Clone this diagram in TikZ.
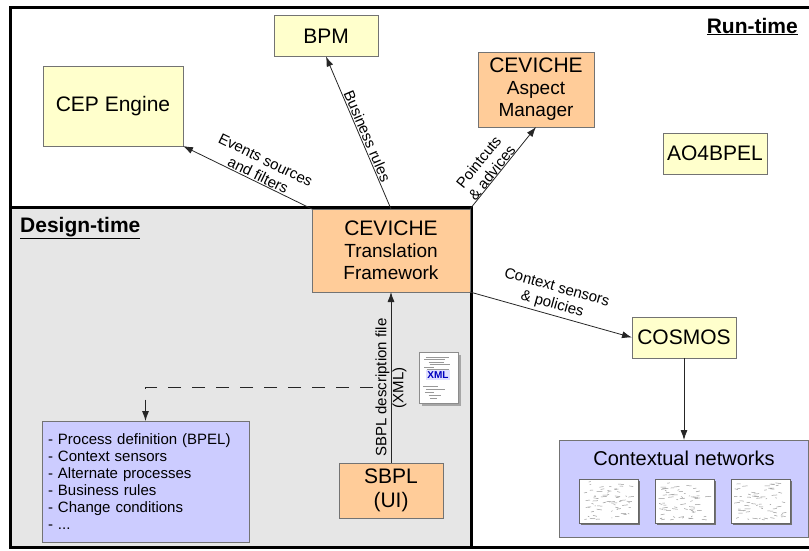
\documentclass[tikz,border=0pt]{standalone}
\usepackage{fontspec}
\setmainfont{Liberation Sans}
\usepackage{tkz-graph}
\usetikzlibrary{arrows.meta}

\definecolor{runfill}{HTML}{FFFFCC}
\definecolor{cevfill}{HTML}{FFCC99}
\definecolor{infofill}{HTML}{CCCCFF}
\definecolor{designfill}{HTML}{E6E6E6}
\newcommand\bigtxt{\fontsize{21}{22}\selectfont}
\newcommand\midtxt{\fontsize{19}{22}\selectfont}
\newcommand\smalltxt{\fontsize{15}{17}\selectfont}

\begin{document}
\begin{tikzpicture}[x=1pt,y=-1pt]
\useasboundingbox (0,0) rectangle (809,550);
% run-time and design-time areas
\draw[line width=3pt] (10,7) rectangle (816,547);
\draw[line width=3pt,fill=designfill] (10,207) rectangle (471,547);
\node[anchor=base west,font=\bigtxt\bfseries,inner sep=0pt] (designtime) at (20,232) {\underline{Design-time}};
\node[anchor=base east,font=\bigtxt\bfseries,inner sep=0pt] (runtime) at (798,33) {\underline{Run-time}};
\GraphInit[vstyle=Empty]
\tikzset{VertexStyle/.style={draw=black!55,fill=runfill,font=\bigtxt,align=center,
  inner sep=0pt,minimum width=104pt,minimum height=41pt}}
\Vertex[x=326,y=36,L=BPM]{BPM}
\Vertex[x=715,y=153.5,L=AO4BPEL]{AO4BPEL}
\Vertex[x=684,y=337.5,L=COSMOS]{COSMOS}
\tikzset{VertexStyle/.style={draw=black!55,fill=runfill,font=\bigtxt,align=center,
  inner sep=0pt,minimum width=140pt,minimum height=80pt}}
\Vertex[x=113,y=106,L={CEP Engine}]{CEP}
\tikzset{VertexStyle/.style={draw=black!55,fill=cevfill,font=\bigtxt,align=center,
  inner sep=0pt,minimum width=158pt,minimum height=83pt}}
\Vertex[x=391,y=250.5,L={CEVICHE\\\midtxt Translation\\\midtxt Framework}]{CTF}
\tikzset{VertexStyle/.style={draw=black!55,fill=cevfill,font=\bigtxt,align=center,
  inner sep=0pt,minimum width=116pt,minimum height=75pt}}
\Vertex[x=536,y=89.5,L={CEVICHE\\\midtxt Aspect\\\midtxt Manager}]{ASP}
\tikzset{VertexStyle/.style={draw=black!55,fill=cevfill,font=\bigtxt,align=center,
  inner sep=0pt,minimum width=104pt,minimum height=55pt}}
\Vertex[x=391,y=490.5,L={SBPL\\[2pt](UI)}]{SBPL}
\tikzset{VertexStyle/.style={draw=black!55,fill=infofill,font=\smalltxt,align=left,
  text width=195pt,inner xsep=6pt,inner ysep=0pt,minimum height=121pt}}
\Vertex[x=145.5,y=481.5,L={- Process definition (BPEL)\\- Context sensors\\- Alternate processes\\- Business rules\\- Change conditions\\- ...}]{LIST}
\tikzset{VertexStyle/.style={draw=black!55,fill=infofill,font=\fontsize{20}{22}\selectfont,
  inner xsep=0pt,inner ysep=5pt,minimum width=249pt,text height=20pt,text depth=67pt}}
\Vertex[x=684,y=488.5,L={Contextual networks}]{CN}
\coordinate (DASH) at (373,387);
% connectors
\tikzset{EdgeStyle/.style={-{Latex[length=10pt,width=7pt]},draw=black!85,line width=.8pt}}
\tikzset{LabelStyle/.style={fill=none,sloped,above,pos=.44,font=\smalltxt,align=center,inner sep=1pt}}
\Edge[label={Events sources\\and filters}](CTF.north west)(CEP.south east)
\tikzset{LabelStyle/.style={fill=none,sloped,above,pos=.46,font=\smalltxt,inner sep=1pt}}
\Edge[label={Business rules}](CTF.north)(BPM.south)
\tikzset{LabelStyle/.style={fill=none,sloped,above,pos=.40,font=\smalltxt,align=center,inner sep=0pt}}
\Edge[label={Pointcuts\\\& advices}](CTF.north east)(ASP.south)
\tikzset{LabelStyle/.style={fill=none,sloped,above,pos=.49,font=\smalltxt,align=center,inner sep=3pt}}
\Edge[label={Context sensors\\\& policies}](CTF.south east)(COSMOS.west)
\tikzset{LabelStyle/.style={fill=none,sloped,pos=.44,font=\smalltxt,align=center,inner sep=0pt}}
\Edge[label={SBPL description file\\(XML)}](SBPL)(CTF)
\Edge(COSMOS)(CN)
\tikzset{EdgeStyle/.style={-{Latex[length=10pt,width=7pt]},draw=black!85,line width=.8pt,
  dash pattern=on 13pt off 11pt,to path={-| (\tikztotarget) \tikztonodes}}}
\Edge(DASH)(LIST)
% xml file icon
\pgfmathsetseed{42}
\fill[black!35] (422,355) rectangle (461,406);
\draw[black!45,fill=white] (419,352) rectangle (458,403);
\foreach \k in {0,...,5}
  \draw[black!40,line width=.5pt] (423+rnd*8,357+\k*2.5) -- ++(8+rnd*16,0);
\foreach \k in {0,...,4}
  \draw[black!40,line width=.5pt] (423+rnd*8,386+\k*3) -- ++(6+rnd*20,0);
\node[fill=blue!12,text=blue!75!black,font=\fontsize{10}{10}\selectfont\bfseries,inner sep=1.5pt] (XML) at (438,375) {XML};
% network thumbnails
\foreach \tx in {579,655,731}{
  \fill[black!55] (\tx+2,481) rectangle (\tx+61,525);
  \draw[black!60,fill=white] (\tx,479) rectangle (\tx+59,523);
  \foreach \k in {1,...,60}
    \draw[black!40,line width=.5pt] (\tx+3+rnd*48,482+rnd*38) -- ++(1+rnd*5,rnd*2-1);
}
\end{tikzpicture}
\end{document}
